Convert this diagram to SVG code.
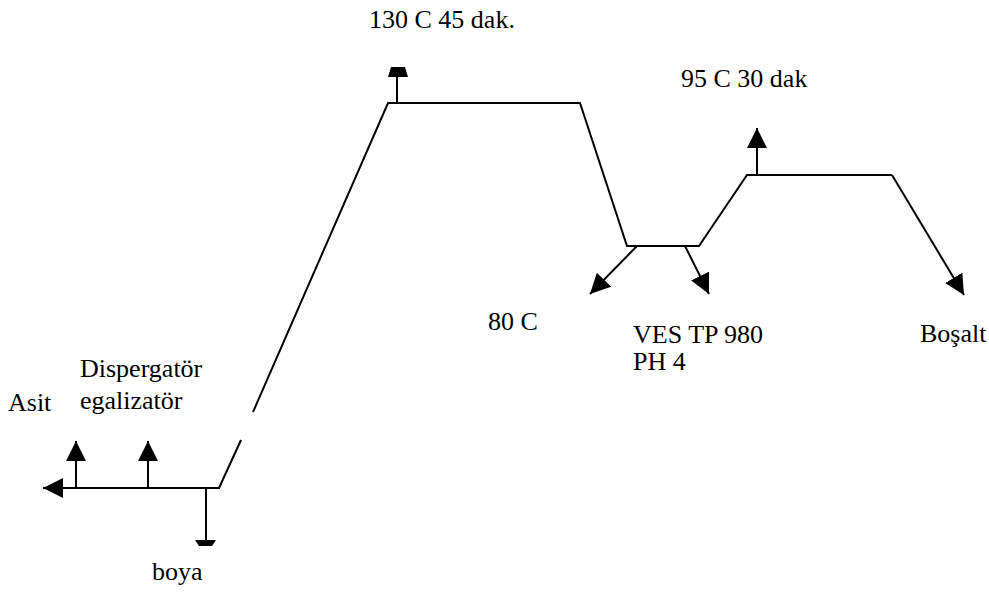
<svg xmlns="http://www.w3.org/2000/svg" width="989" height="592" viewBox="0 0 989 592">
<defs>
<style>
.t{font-family:"Liberation Serif","Times New Roman",serif;font-size:26px;fill:#000}
.l{stroke:#000;stroke-width:2;fill:none}
.h{fill:#000;stroke:none}
</style>
<marker id="ah" markerUnits="userSpaceOnUse" markerWidth="20" markerHeight="20" refX="20" refY="10" orient="auto" viewBox="0 0 20 20">
<path d="M0,0 L20,10 L0,20 z" fill="#000"/>
</marker>
</defs>
<rect width="989" height="592" fill="#fff"/>
<g id="connectors">
<polyline class="l" points="219,488 241,440"/>
<polyline class="l" points="253,412 388,103 580,103 627,246 699,246 747,175 892,175"/>
<line class="l" x1="892" y1="175" x2="964" y2="295" marker-end="url(#ah)"/>
<line class="l" x1="220" y1="488" x2="43" y2="488" marker-end="url(#ah)"/>
<line class="l" x1="76" y1="488" x2="76" y2="441" marker-end="url(#ah)"/>
<line class="l" x1="148" y1="488" x2="148" y2="441" marker-end="url(#ah)"/>
<line class="l" x1="206" y1="488" x2="206" y2="540"/>
<polygon class="h" points="195,540 216,540 212,546 199,546"/>
<line class="l" x1="397" y1="103" x2="397" y2="77"/>
<polygon class="h" points="388,77 408,77 405,67 391,67"/>
<line class="l" x1="757" y1="175" x2="757" y2="128" marker-end="url(#ah)"/>
<line class="l" x1="637" y1="246" x2="590" y2="294" marker-end="url(#ah)"/>
<line class="l" x1="685" y1="246" x2="709" y2="294" marker-end="url(#ah)"/>
</g>
<g id="label-130"><text class="t" x="369" y="28">130 C 45 dak.</text></g>
<g id="label-95"><text class="t" x="681" y="87">95 C 30 dak</text></g>
<g id="label-80"><text class="t" x="488" y="330">80 C</text></g>
<g id="label-ves"><text class="t" x="633" y="343">VES TP 980</text><text class="t" x="633" y="370">PH 4</text></g>
<g id="label-bosalt"><text class="t" x="920" y="342">Boşalt</text></g>
<g id="label-disp"><text class="t" x="80" y="377">Dispergatör</text><text class="t" x="80" y="409">egalizatör</text></g>
<g id="label-asit"><text class="t" x="8" y="411">Asit</text></g>
<g id="label-boya"><text class="t" x="152" y="580">boya</text></g>
</svg>
